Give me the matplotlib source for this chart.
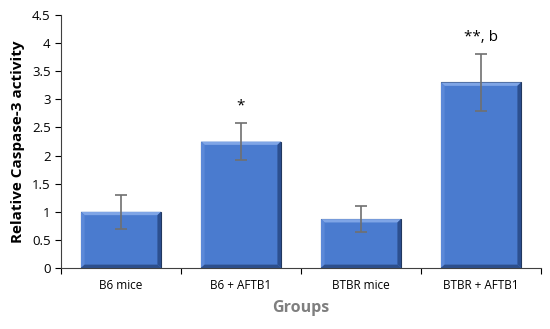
import matplotlib
matplotlib.use('Agg')
import matplotlib.pyplot as plt
from matplotlib.patches import Polygon

groups = ['B6 mice', 'B6 + AFTB1', 'BTBR mice', 'BTBR + AFTB1']
values = [1.0, 2.25, 0.87, 3.3]
errors = [0.30, 0.33, 0.23, 0.51]
marks = ['', '*', '', '**, b']

plt.rcParams['font.family'] = ['Open Sans', 'DejaVu Sans']

fig = plt.figure(figsize=(5.5, 3.29), dpi=100)
ax = fig.add_axes([61 / 550, 1 - 268 / 329, 480 / 550, 253 / 329])

x = list(range(len(groups)))
w = 0.667
bars = ax.bar(x, values, width=w, color='#4a7bcf', edgecolor='#22385f', linewidth=0.8, zorder=2)

# bevel edges, a few pixels wide
bx = 0.03
by = 0.06
for b in bars:
    x0, y0 = b.get_x(), b.get_y()
    x1, y1 = x0 + b.get_width(), y0 + b.get_height()
    faces = [
        ([(x0, y1), (x1, y1), (x1 - bx, y1 - by), (x0 + bx, y1 - by)], '#7fa5e6'),
        ([(x0, y0), (x0, y1), (x0 + bx, y1 - by), (x0 + bx, y0 + by)], '#5c89d8'),
        ([(x1, y0), (x1, y1), (x1 - bx, y1 - by), (x1 - bx, y0 + by)], '#2c4f8f'),
        ([(x0, y0), (x1, y0), (x1 - bx, y0 + by), (x0 + bx, y0 + by)], '#2d4f8c'),
    ]
    for pts, c in faces:
        ax.add_patch(Polygon(pts, closed=True, facecolor=c, edgecolor='none', zorder=3))

ax.errorbar(x, values, yerr=errors, fmt='none', ecolor='#707070', elinewidth=1.2,
            capsize=4, capthick=1.2, zorder=4)

for xi, v, e, m in zip(x, values, errors, marks):
    if m:
        ax.text(xi, v + e + 0.16, m, ha='center', va='bottom', fontsize=11, color='black')

ax.set_xlim(-0.5, 3.5)
ax.set_ylim(0, 4.5)
ax.set_yticks([0, 0.5, 1, 1.5, 2, 2.5, 3, 3.5, 4, 4.5])
ax.set_yticklabels(['0', '0.5', '1', '1.5', '2', '2.5', '3', '3.5', '4', '4.5'], fontsize=9.5)
ax.set_xticks([-0.5, 0.5, 1.5, 2.5, 3.5])
ax.set_xticklabels([])
ax.set_xticks(x, minor=True)
ax.set_xticklabels(groups, minor=True, fontsize=8.5)
ax.tick_params(axis='x', which='minor', length=0, pad=8)
ax.tick_params(axis='x', which='major', length=4, direction='out')
ax.tick_params(axis='y', length=4, direction='out')

for s in ['top', 'right']:
    ax.spines[s].set_visible(False)
for s in ['left', 'bottom']:
    ax.spines[s].set_color('#404040')

ax.set_ylabel('Relative Caspase-3 activity', fontsize=11, fontweight='bold', labelpad=5)
ax.set_xlabel('Groups', fontsize=11.5, fontweight='bold', color='#7f7f7f', labelpad=6)

fig.savefig('out.png', dpi=100)
